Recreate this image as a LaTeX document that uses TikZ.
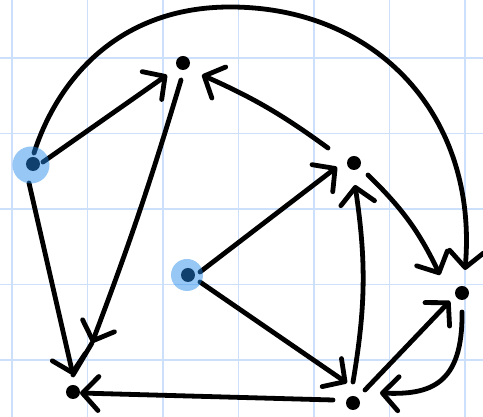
\documentclass[tikz,border=0pt]{standalone}
\usetikzlibrary{arrows.meta,calc}
\definecolor{gridblue}{RGB}{204,224,252}
\definecolor{hl}{RGB}{32,138,234}
\begin{document}
\begin{tikzpicture}[x=1pt,y=1pt,
  gridline/.style={draw=gridblue,line width=1.6pt},
  edge/.style={draw=black,line width=4.8pt,line cap=round,line join=round,
    -{Straight Barb[length=16pt,width=34pt,round]}},
  stroke/.style={draw=black,line width=4.8pt,line cap=round,line join=round},
  dot/.style={fill=black},
  halo/.style={fill=hl,fill opacity=0.47}]
\useasboundingbox (0,0) rectangle (483,417);
\fill[white] (0,0) rectangle (483,417);
\foreach \x in {12,87.5,163,238.5,314,389.5,465} \draw[gridline] (\x,0) -- (\x,417);
\foreach \y in {359,283.5,208,132.5,57} \draw[gridline] (0,\y) -- (483,\y);

\coordinate (A) at (33,253);
\coordinate (B) at (183,354);
\coordinate (C) at (354,254);
\coordinate (D) at (188,142);
\coordinate (E) at (462,124);
\coordinate (F) at (73,25);
\coordinate (G) at (353,14);

% A -> B
\draw[edge] ($(A)+(10,2)$) -- ($(B)+(-16,-12)$);
% C -> B
\draw[edge] ($(C)+(-26,15)$) to[bend right=6] ($(B)+(19,-12)$);
% B -> F
\draw[edge] ($(B)+(-2,-17)$) to[bend left=2] ($(F)+(19,49)$);
\draw[stroke] ($(F)+(19,49)$) -- ($(F)+(0,17)$);
% A -> F
\draw[edge] ($(A)+(-4,-19)$) -- ($(F)+(0,17)$);
% A -> E (big arc)
\draw[edge] ($(A)+(1,11)$) .. controls (58,339) and (120,410) .. (230,410)
  .. controls (378,410) and (478,300) .. ($(E)+(3,23)$);
% D -> C
\draw[edge] ($(D)+(12,3)$) -- ($(C)+(-17,-4)$);
% D -> G
\draw[edge] ($(D)+(12,-7)$) -- ($(G)+(-6,20)$);
% G -> C
\draw[edge] ($(G)+(0,21)$) to[bend right=9] ($(C)+(1,-22)$);
% C -> E
\draw[edge] ($(C)+(14,-12)$) to[bend left=10] ($(E)+(-22,18)$);
% G -> E
\draw[edge] ($(G)+(12,13)$) -- ($(E)+(-12,-8)$);
% E -> G
\draw[edge] ($(E)+(0,-19)$) .. controls +(1,-73) and +(50,-2) .. ($(G)+(27,10)$);
% G -> F
\draw[edge] ($(G)+(-20,3)$) -- ($(F)+(7,-1)$);

% dots
\foreach \n in {A,B,C,D,E,F,G} \fill[dot] (\n) circle (7);

% highlights
\fill[halo] (31,252) circle (18.5);
\fill[halo] (187,142) circle (16);
\end{tikzpicture}
\end{document}
